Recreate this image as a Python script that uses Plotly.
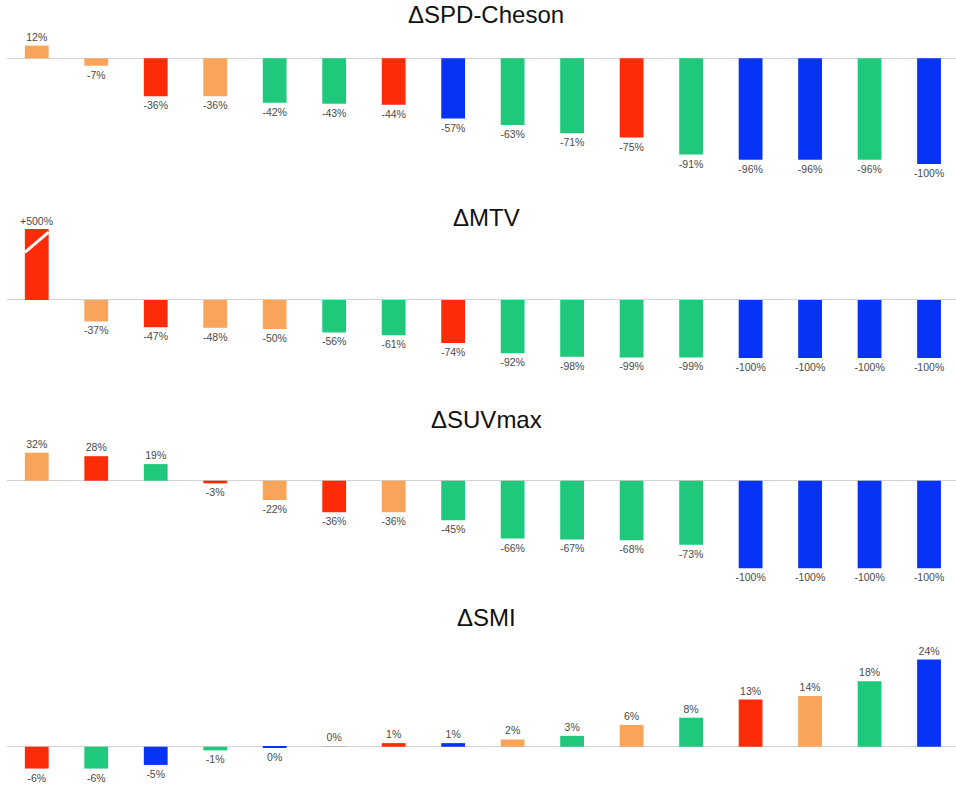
import plotly.graph_objects as go

# ---------------- data ----------------
patients = list(range(1, 17))

titles = ["ΔSPD-Cheson", "ΔMTV", "ΔSUVmax", "ΔSMI"]

spd_values = [12, -7, -36, -36, -42, -43, -44, -57, -63, -71, -75, -91, -96, -96, -96, -100]
spd_groups = ["O", "O", "R", "O", "G", "G", "R", "B", "G", "G", "R", "G", "B", "B", "G", "B"]

mtv_values = [500, -37, -47, -48, -50, -56, -61, -74, -92, -98, -99, -99, -100, -100, -100, -100]
mtv_groups = ["R", "O", "R", "O", "O", "G", "G", "R", "G", "G", "G", "G", "B", "B", "B", "B"]

suv_values = [32, 28, 19, -3, -22, -36, -36, -45, -66, -67, -68, -73, -100, -100, -100, -100]
suv_groups = ["O", "R", "G", "R", "O", "R", "O", "G", "G", "G", "G", "G", "B", "B", "B", "B"]

smi_values = [-6, -6, -5, -1, -0.3, 0.2, 1, 1, 2, 3, 6, 8, 13, 14, 18, 24]
smi_groups = ["R", "G", "B", "G", "B", "N", "R", "B", "O", "G", "O", "G", "R", "O", "G", "B"]

group_colors = {"O": "#F8A55B", "R": "#FD2B08", "G": "#1FC87A", "B": "#0733F6", "N": "#B9B9B9"}

# ---------------- layout helpers ----------------
W, H = 956, 792
ML = 7
FONT = "Liberation Sans, Arial, Helvetica, sans-serif"

# pixel geometry of each panel: (top px, bottom px, y-range)
panels = [
    dict(values=spd_values, groups=spd_groups, top=36, bottom=182, yr=[-117.0, 21.1], title_y=15),
    dict(values=mtv_values, groups=mtv_groups, top=229, bottom=385, yr=[-146.6, 122.4], title_y=217),
    dict(values=suv_values, groups=suv_groups, top=440, bottom=588, yr=[-122.5, 46.5], title_y=419),
    dict(values=smi_values, groups=smi_groups, top=645, bottom=790, yr=[-11.9, 28.0], title_y=617),
]


def label(v, first_plus=False):
    r = int(round(v))
    if first_plus and r > 0:
        return f"+{r}%"
    return f"{r}%"


fig = go.Figure()
layout = dict(
    width=W, height=H,
    margin=dict(l=ML, r=0, t=0, b=0),
    paper_bgcolor="white", plot_bgcolor="white",
    showlegend=False,
    font=dict(family=FONT, color="#4a4a4a"),
    bargap=0.6,
)
annotations = []
shapes = []

for i, p in enumerate(panels):
    n = "" if i == 0 else str(i + 1)
    xa, ya = "x" + n, "y" + n
    texts = [label(v) for v in p["values"]]
    clip = False
    if i == 1:
        # broken first bar: label drawn as annotation above the cut
        texts[0] = ""
        clip = True
    fig.add_trace(go.Bar(
        x=list(range(len(patients))), y=p["values"],
        marker=dict(color=[group_colors[g] for g in p["groups"]], line=dict(width=0)),
        width=0.4,
        text=texts, textposition="outside", constraintext="none",
        textfont=dict(family=FONT, size=10.5, color="#4a4a4a"),
        cliponaxis=clip, hoverinfo="skip",
        xaxis=xa, yaxis=ya,
    ))
    layout["xaxis" + n] = dict(
        domain=[0, 1], range=[-0.5, 15.453], anchor=ya,
        showticklabels=False, showgrid=False, zeroline=False, showline=False, ticks="",
    )
    layout["yaxis" + n] = dict(
        domain=[1 - p["bottom"] / H, 1 - p["top"] / H], range=p["yr"], anchor=xa,
        showticklabels=False, showgrid=False, showline=False, ticks="",
        zeroline=True, zerolinecolor="#d2d2d2", zerolinewidth=1,
    )
    annotations.append(dict(
        text=titles[i], xref="paper", yref="paper",
        x=(486 - ML) / (W - ML), y=1 - p["title_y"] / H,
        xanchor="center", yanchor="middle", showarrow=False,
        font=dict(family=FONT, size=24, color="#111111"),
    ))

# "+500%" label of the truncated MTV bar and the white break slash
annotations.append(dict(
    text=label(mtv_values[0], first_plus=True), xref="x2", yref="y2 domain",
    x=0, y=1, xanchor="center", yanchor="bottom", yshift=0, showarrow=False,
    font=dict(family=FONT, size=10.5, color="#4a4a4a"),
))
shapes.append(dict(
    type="line", xref="x2", yref="y2 domain",
    x0=-0.2, x1=0.2, y0=0.85, y1=0.98,
    line=dict(color="white", width=3),
))

layout["annotations"] = annotations
layout["shapes"] = shapes
fig.update_layout(**layout)

fig.write_html(
    "out.html",
    config={"displayModeBar": False},
    post_script="document.body.style.margin='0px';document.body.style.overflow='hidden';",
)
